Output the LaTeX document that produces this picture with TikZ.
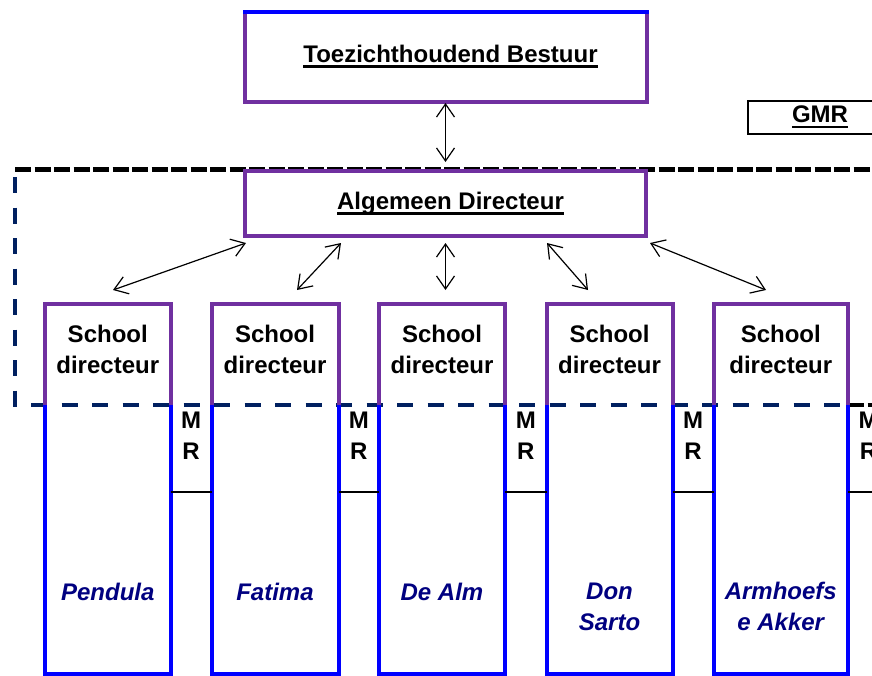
\documentclass[tikz,border=0pt]{standalone}
\usepackage{fontspec}
\setmainfont{Liberation Sans}
\usepackage{xcolor}
\usetikzlibrary{arrows.meta, positioning, calc}
\definecolor{bestuurpaars}{RGB}{112, 48, 160}
\definecolor{schoolblauw}{RGB}{0, 0, 255}
\definecolor{kaderblauw}{RGB}{0, 32, 96}
\definecolor{naamblauw}{RGB}{0, 0, 128}
\newcommand{\onderstreep}[1]{\sbox0{#1}\rlap{\rule[-5.5pt]{\wd0}{2.6pt}}\usebox0}

\begin{document}
\begin{tikzpicture}[
    x=1pt, y=-1pt,
    font=\fontsize{24}{31}\selectfont\bfseries,
    kader/.style={draw=bestuurpaars, line width=4pt, fill=white, outer sep=0pt},
    gmrvak/.style={draw, line width=2pt, fill=white, outer sep=0pt,
                   minimum width=144pt, minimum height=33pt},
    kolom/.style={draw=schoolblauw, line width=4pt, outer sep=0pt, minimum height=370pt},
    paarsrand/.style={bestuurpaars, line width=4pt},
    pijl/.style={<->, >={Straight Barb[length=13pt, width=18pt]}, line width=1.2pt},
    streep/.style={line width=4.5pt, dash pattern=on 16pt off 3.5pt},
    stippel/.style={kaderblauw, line width=4pt, dash pattern=on 16pt off 14.5pt},
    mrlijn/.style={line width=1.5pt},
    tekst/.style={anchor=base, align=center},
    naam/.style={tekst, text=naamblauw, font=\fontsize{24}{31}\selectfont\bfseries\itshape}
  ]
    \useasboundingbox (0,0) rectangle (872,675);
    \clip (0,0) rectangle (872,675);
    \draw[streep] (15,169.5) -- (872,169.5);
    \draw[stippel] (15,177) -- (15,405) -- (848,405);
    \draw[streep] (848,405) -- (872,405);

    \node[kader, minimum width=402pt, minimum height=90pt] (tb) at (445.5,56.5) {\hspace{10pt}\onderstreep{Toezichthoudend Bestuur}};
    \draw[schoolblauw, line width=4pt, line cap=rect] (tb.north west) -- (tb.north east);
    \node[kader, minimum width=401pt, minimum height=65pt] (ad) at (445.5,203.5) {\hspace{10pt}\onderstreep{Algemeen Directeur}};
    \node[gmrvak] (gmr) at (820,117.2) {\onderstreep{GMR}};

    \coordinate (dirgrens) at (0,405);
    \coordinate (mrtop) at (0,459);
    \coordinate (mrhoogte) at (0,492);
    \coordinate (rand) at (872,492);
    \foreach \i/\l/\r/\naam/\y in {1/45/170.5/Pendula/600, 2/211.5/338.5/Fatima/600, 3/379/505/De Alm/600,
                                    4/546.5/672.5/{Don\\Sarto}/630, 5/713.5/848/{Armhoefs\\e Akker}/630} {
      \node[kolom, minimum width={\r-\l}] (s\i) at ({(\l+\r)/2},488.5) {};
      \draw[paarsrand] (s\i.west |- dirgrens) |- (s\i.north) -| (s\i.east |- dirgrens);
      \node[tekst] (d\i) at ({(\l+\r)/2},373) {School\\directeur};
      \node[naam] (n\i) at ({(\l+\r)/2},\y) {\naam};
    }
    \foreach \i/\j in {1/2, 2/3, 3/4, 4/5} {
      \node[tekst] (mr\i) at ($(s\i.east |- mrtop)!0.5!(s\j.west |- mrtop)$) {M\\R};
      \draw[mrlijn] (s\i.east |- mrhoogte) -- (s\j.west |- mrhoogte);
    }
    \node[tekst] (mr5) at ($(s5.east |- mrtop)+(20.5,0)$) {M\\R};
    \draw[mrlijn] (s5.east |- mrhoogte) -- (rand);

    \draw[pijl] ($(tb.south)+(0,1.5)$) -- ($(ad.north)+(0,-9)$);
    \draw[pijl] ($(ad.south west)+(1,7)$) -- ($(s1.north west)+(68,-13.5)$);
    \draw[pijl] ($(ad.south west)+(96,7)$) -- ($(s2.north west)+(85.5,-13.5)$);
    \draw[pijl] ($(ad.south)+(0,7)$) -- ($(ad.south |- s3.north)+(0,-13.5)$);
    \draw[pijl] ($(ad.south west)+(302,7)$) -- ($(s4.north west)+(41.5,-13.5)$);
    \draw[pijl] ($(ad.south east)+(4,7)$) -- ($(s5.north west)+(52.5,-13.5)$);
  \end{tikzpicture}
\end{document}
